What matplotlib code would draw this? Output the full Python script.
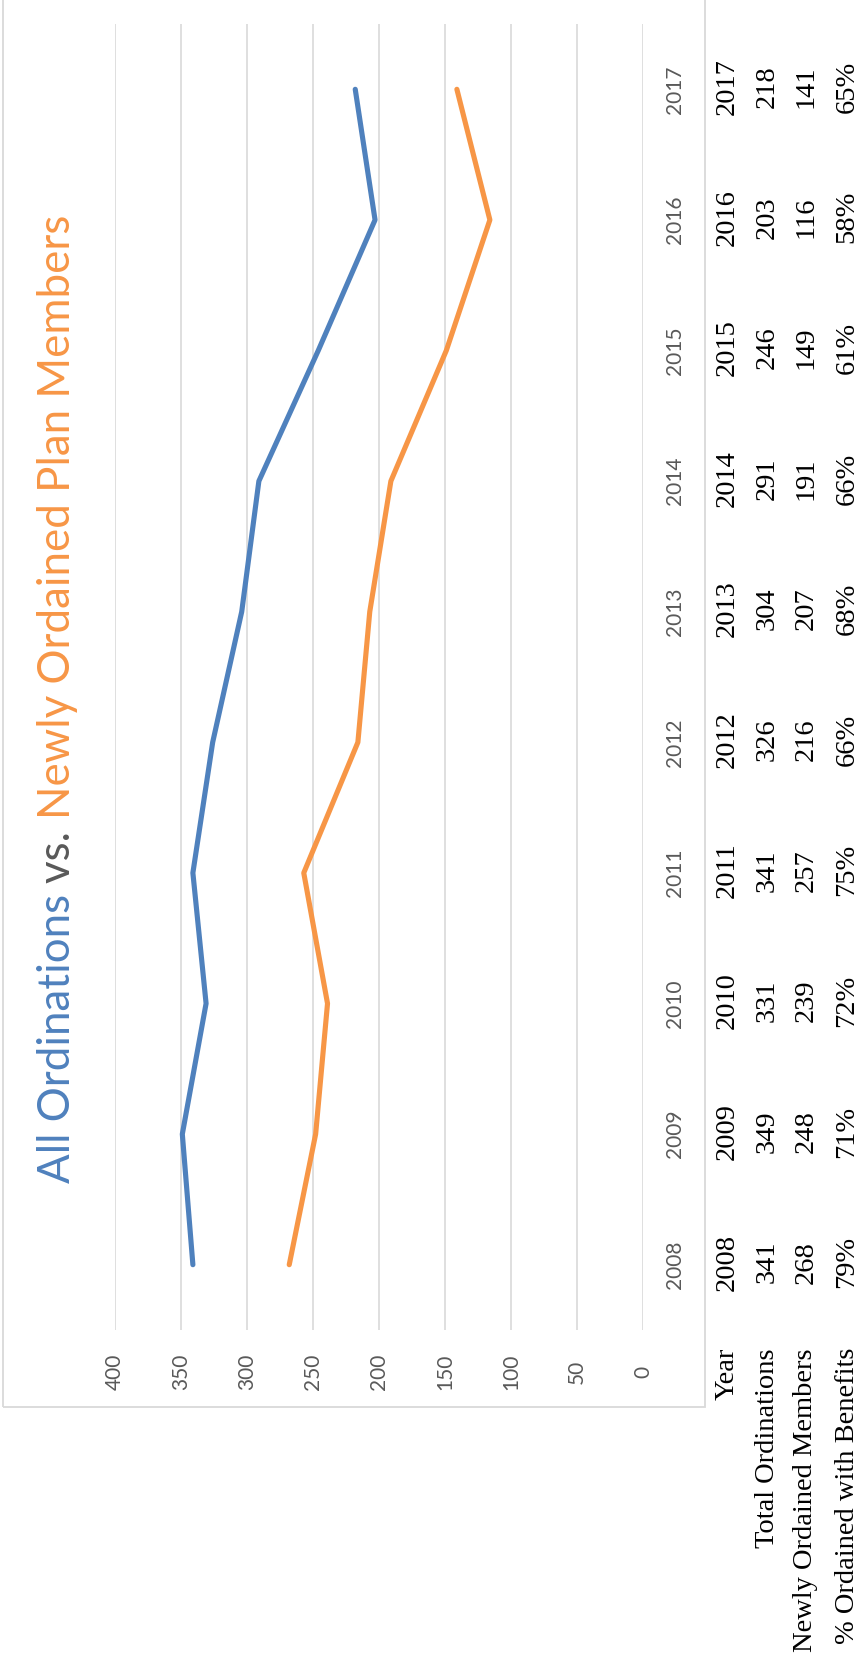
import matplotlib
matplotlib.use("Agg")
import matplotlib.pyplot as plt
from matplotlib import transforms
from matplotlib.patches import Rectangle
from matplotlib.font_manager import FontProperties

years = [2008, 2009, 2010, 2011, 2012, 2013, 2014, 2015, 2016, 2017]
total_ordinations = [341, 349, 331, 341, 326, 304, 291, 246, 203, 218]
newly_ordained = [268, 248, 239, 257, 216, 207, 191, 149, 116, 141]
pct_benefits = [79, 71, 72, 75, 66, 68, 66, 61, 58, 65]
value_ticks = [0, 50, 100, 150, 200, 250, 300, 350, 400]
row_labels = ["Year", "Total Ordinations", "Newly Ordained Members",
              "% Ordained with Benefits"]

BLUE = "#4F81BD"
ORANGE = "#F79646"
GRID = "#D9D9D9"
LABEL = "#595959"

W, H = 859, 1668
fig = plt.figure(figsize=(W / 100, H / 100), dpi=100)


def fx(px):
    return px / W


def fy(py):
    return 1 - py / H


# outer chart border (top edge is outside the picture)
fig.patches.append(Rectangle((fx(3), fy(1407)), fx(705) - fx(3), 1.0,
                             transform=fig.transFigure, fill=False,
                             edgecolor=GRID, lw=1.3))

# chart is drawn "on its side": values run right->left, years bottom->top
ax = fig.add_axes([fx(115), fy(1330), fx(643) - fx(115), (1330 - 24) / H])
idx = list(range(len(years)))
ax.plot(total_ordinations, idx, color=BLUE, lw=3.7,
        solid_capstyle="round", solid_joinstyle="round")
ax.plot(newly_ordained, idx, color=ORANGE, lw=3.7,
        solid_capstyle="round", solid_joinstyle="round")
ax.set_xlim(400, 0)
ax.set_ylim(-0.5, len(years) - 0.5)
ax.set_xticks(value_ticks)
ax.set_yticks([])
ax.grid(axis="x", color=GRID, lw=1.2)
ax.set_axisbelow(True)
ax.tick_params(length=0, labelbottom=False, labelleft=False)
for s in ax.spines.values():
    s.set_visible(False)

sans = "Lato"
serif = "Liberation Serif"

# value axis labels
tx = transforms.blended_transform_factory(ax.transData, fig.transFigure)
for v in value_ticks:
    ax.text(v, fy(1372), str(v), transform=tx, rotation=90, ha="center",
            va="center", color=LABEL, fontsize=15, family=sans)

# category labels and data table
ty = transforms.blended_transform_factory(fig.transFigure, ax.transData)
col_x = [727, 767, 806, 847]
for i, yr in enumerate(years):
    ax.text(fx(675), i, str(yr), transform=ty, rotation=90, ha="center",
            va="center", color=LABEL, fontsize=15, family=sans)
    row_vals = [str(yr), str(total_ordinations[i]), str(newly_ordained[i]),
                "%d%%" % pct_benefits[i]]
    for cx, val in zip(col_x, row_vals):
        ax.text(fx(cx), i + 0.02, val, transform=ty, rotation=90,
                ha="center", va="center", color="black", fontsize=20.5,
                family=serif)

for cx, lab in zip(col_x, row_labels):
    fig.text(fx(cx), fy(1348), lab, rotation=90, rotation_mode="anchor",
             ha="right", va="center", color="black", fontsize=20.5,
             family=serif)

# multi-coloured title, stacked bottom to top
parts = [("All Ordinations ", BLUE), ("vs. ", "#595959"),
         ("Newly Ordained Plan Members", ORANGE)]
renderer = fig.canvas.get_renderer()


def text_len(s, size):
    prop = FontProperties(family=sans, size=size)
    w_dot, _, _ = renderer.get_text_width_height_descent(".", prop, ismath=False)
    w, _, _ = renderer.get_text_width_height_descent(s + ".", prop, ismath=False)
    return w - w_dot


full = "".join(p[0] for p in parts)
size = 30
size = size * (1183 - 217) / text_len(full, size)
y0 = 1183
for s, c in parts:
    fig.text(fx(70), fy(y0), s, rotation=90, rotation_mode="anchor",
             ha="left", va="baseline", color=c, fontsize=size, family=sans)
    y0 -= text_len(s, size)

fig.savefig("out.png", dpi=100)
